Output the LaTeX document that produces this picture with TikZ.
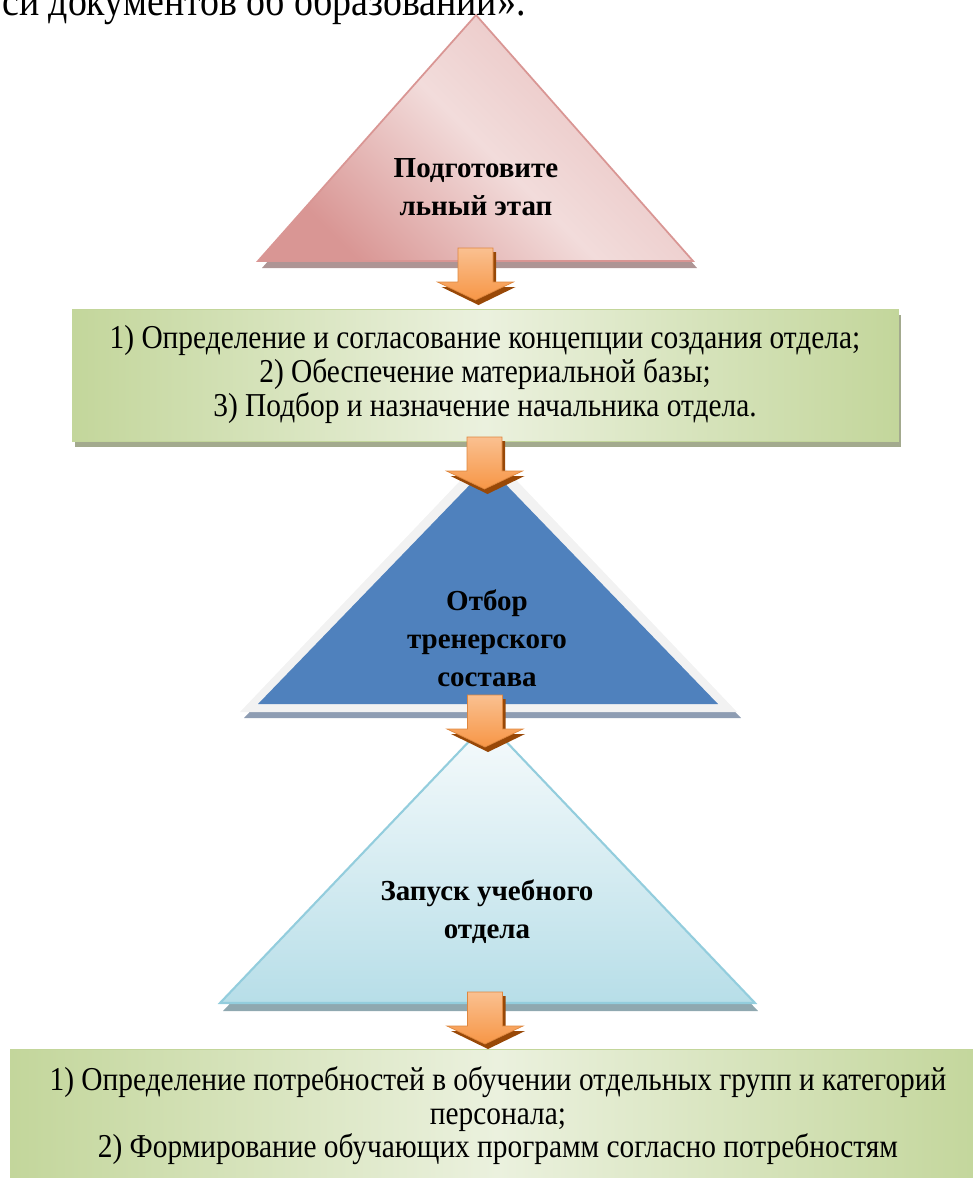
\documentclass[tikz,border=0pt]{standalone}
\usepackage{fontspec}
\setmainfont{Liberation Serif}
\newfontfamily\narrowserif[FakeStretch=0.88]{Liberation Serif}
\usetikzlibrary{shadows}

\definecolor{pinkdark}{HTML}{D99694}
\definecolor{pinklight}{HTML}{F2DCDB}
\definecolor{pinkmid}{HTML}{E6B9B8}
\definecolor{pinkshadow}{HTML}{AE9595}
\definecolor{greendark}{HTML}{C3D69B}
\definecolor{greenlight}{HTML}{EBF1DE}
\definecolor{greenshadow}{HTML}{A3AA8E}
\definecolor{bluefill}{HTML}{4F81BD}
\definecolor{blueedge}{HTML}{F2F2F2}
\definecolor{blueshadow}{HTML}{8E9DB3}
\definecolor{aquaedge}{HTML}{93CDDD}
\definecolor{aquafill}{HTML}{B7DEE8}
\definecolor{aquatop}{HTML}{F7FBFC}
\definecolor{aquashadow}{HTML}{8FA8B0}
\definecolor{arroworange}{HTML}{F79646}
\definecolor{arrowlight}{HTML}{FAC090}
\definecolor{arrowdark}{HTML}{984807}

\tikzset{
  blockarrow/.pic={
    \fill[arrowdark] (-14.5,4) -- (20.5,4) -- (20.5,39) -- (40,39) -- (3,57) -- (-34,39) -- (-14.5,39) -- cycle;
    \shade[top color=arrowlight, bottom color=arroworange, draw=arroworange!90!black, line width=0.4pt]
      (-17.5,0) -- (17.5,0) -- (17.5,34) -- (38,34) -- (0,52) -- (-38,34) -- (-17.5,34) -- cycle;
  }
}

\begin{document}
\begin{tikzpicture}[x=0.02cm, y=-0.02cm,
  boxtext/.style={font=\narrowserif\fontsize{19}{19}\selectfont, align=center},
  tritext/.style={font=\fontsize{16.5}{21.5}\selectfont\bfseries, align=center},
  greenbox/.style={draw=greendark, line width=0.4pt, left color=greendark, right color=greendark, middle color=greenlight,
    drop shadow={shadow xshift=0.06cm, shadow yshift=-0.12cm, fill=greenshadow, opacity=1}}]
\useasboundingbox (0,0) rectangle (973,1178);

\node[anchor=base west, font=\narrowserif\fontsize{24.5}{26}\selectfont] (prev) at (-4,15) {си документов об образовании».};

% triangle 1
\fill[pinkshadow] (480,22) -- (697,268) -- (262,268) -- cycle;
\shade[left color=pinkdark, right color=pinkmid!80!pinklight, middle color=pinklight, shading angle=135, draw=pinkdark, line width=1pt]
  (476,15) -- (693,261) -- (258,261) -- cycle;
\node[tritext] (prep) at (476,187) {Подготовите\\льный этап};

% box 1
\node[greenbox, minimum width=16.52cm, minimum height=2.64cm] (tasks) at (485,375) {};
\node[boxtext, anchor=base] (tasks1) at (485,348) {1) Определение и согласование концепции создания отдела;};
\node[boxtext, anchor=base] (tasks2) at (485,382) {2) Обеспечение материальной базы;};
\node[boxtext, anchor=base] (tasks3) at (485,416) {3) Подбор и назначение начальника отдела.};

% triangle 2
\fill[blueshadow] (492,457) -- (741,718) -- (244,718) -- cycle;
\fill[blueedge] (488.5,451) -- (737,712) -- (240,712) -- cycle;
\fill[bluefill] (488,466) -- (718,704) -- (258,704) -- cycle;
\node[tritext] (coach) at (487,638) {Отбор\\тренерского\\состава};

% triangle 3
\fill[aquashadow] (490.5,730) -- (758,1011) -- (223,1011) -- cycle;
\shade[top color=aquatop, bottom color=aquafill, draw=aquaedge, line width=1.2pt]
  (487.5,722) -- (755,1003) -- (220,1003) -- cycle;
\node[tritext] (launch) at (487,912) {Запуск учебного\\отдела};

% box 2
\node[greenbox, minimum width=19.5cm, minimum height=2.9cm] (needs) at (497.5,1122) {};
\node[boxtext, anchor=base] (needs1) at (498,1090) {1) Определение потребностей в обучении отдельных групп и категорий};
\node[boxtext, anchor=base] (needs2) at (498,1124) {персонала;};
\node[boxtext, anchor=base] (needs3) at (498,1157) {2) Формирование обучающих программ согласно потребностям};

% arrows
\foreach \ax/\ay in {475.5/248, 484.5/437, 485/695, 485/992}
  \pic at (\ax,\ay) {blockarrow};
\end{tikzpicture}
\end{document}
